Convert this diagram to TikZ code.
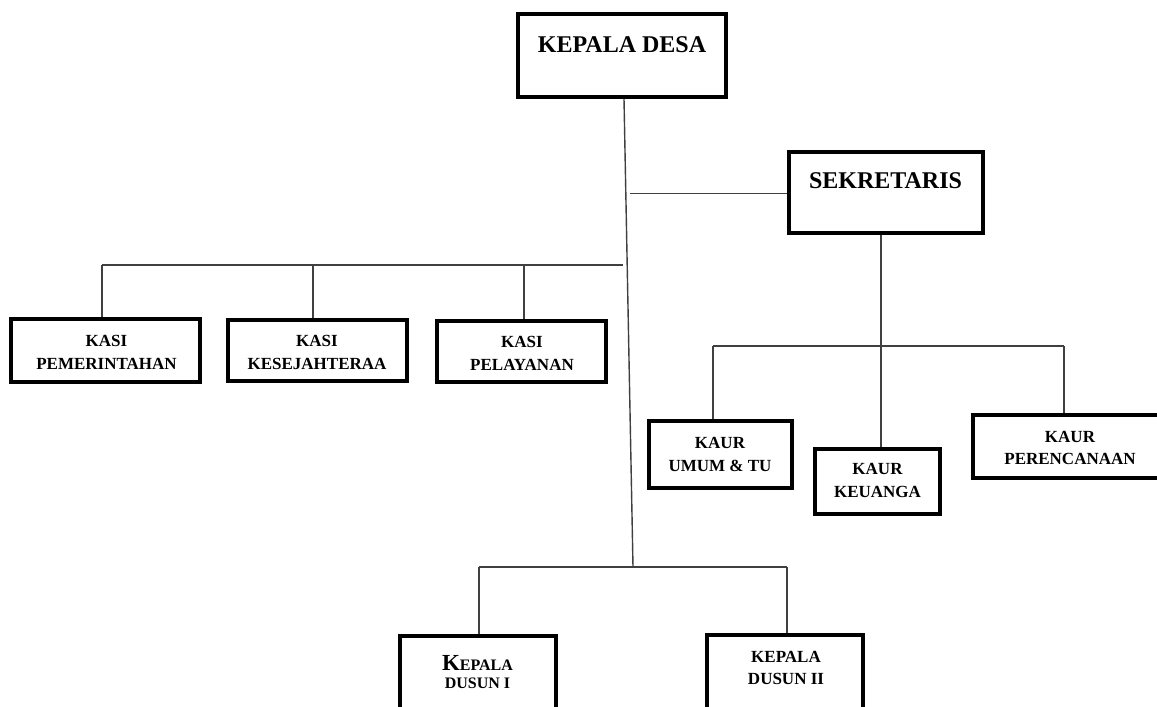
\documentclass[tikz,border=0pt]{standalone}
\usepackage{fontspec}
\setmainfont{Liberation Serif}
\begin{document}
\begin{tikzpicture}[x=1pt,y=-1pt,
  box/.style={draw=black, line width=4pt, rectangle, inner sep=0pt},
  conn/.style={draw=black!75, line width=1.4pt},
  big/.style={font=\fontsize{24}{28}\selectfont\bfseries, anchor=base, inner sep=0pt},
  lbl/.style={font=\fontsize{17}{20}\selectfont\bfseries, anchor=base, inner sep=0pt}]
\useasboundingbox (0,0) rectangle (1157,707);
\clip (0,0) rectangle (1157,707);

% boxes
\node[box, minimum width=208pt, minimum height=83pt] (kd) at (622,55.5) {};
\node[box, minimum width=194pt, minimum height=81pt] (sek) at (886,192.5) {};
\node[box, minimum width=189pt, minimum height=63pt] (k1) at (105.5,350.5) {};
\node[box, minimum width=179pt, minimum height=61pt] (k2) at (317.5,350.5) {};
\node[box, minimum width=169pt, minimum height=61pt] (k3) at (521.5,351.5) {};
\node[box, minimum width=143pt, minimum height=67pt] (u1) at (720.5,454.5) {};
\node[box, minimum width=125pt, minimum height=65pt] (u2) at (877.5,481.5) {};
\node[box, minimum width=194pt, minimum height=63pt] (u3) at (1070,446.5) {};
\node[box, minimum width=156pt, minimum height=92pt] (d1) at (478,682) {};
\node[box, minimum width=156pt, minimum height=93pt] (d2) at (785,681.5) {};

% texts
\node[big] (tkd) at (622,52) {KEPALA DESA};
\node[big] (tsek) at (885.5,188) {SEKRETARIS};
\node[lbl] (tk1a) at (106.5,346) {KASI};
\node[lbl] (tk1b) at (106.5,369) {PEMERINTAHAN};
\node[lbl] (tk2a) at (317,346) {KASI};
\node[lbl] (tk2b) at (317,369) {KESEJAHTERAA};
\node[lbl] (tk3a) at (522,347) {KASI};
\node[lbl] (tk3b) at (522,370) {PELAYANAN};
\node[lbl] (tu1a) at (720,448) {KAUR};
\node[lbl] (tu1b) at (720,471) {UMUM \& TU};
\node[lbl] (tu2a) at (877.5,474) {KAUR};
\node[lbl] (tu2b) at (877.5,497) {KEUANGA};
\node[lbl] (tu3a) at (1070,442) {KAUR};
\node[lbl] (tu3b) at (1070,464) {PERENCANAAN};
\node[lbl] (td1a) at (477.5,670) {{\fontsize{23}{24}\selectfont K}{\fontsize{16}{20}\selectfont EPALA}};
\node[lbl] (td1b) at (477.5,688) {\fontsize{16}{20}\selectfont DUSUN I};
\node[lbl] (td2a) at (786,662) {KEPALA};
\node[lbl] (td2b) at (786,684) {DUSUN II};

% junction coordinates
\coordinate (mb) at (633,567);
\coordinate (sj) at (630,193.5);
\coordinate (kb1) at (102,265);
\coordinate (kb2) at (313,265);
\coordinate (kb3) at (524,265);
\coordinate (kbe) at (623,265);
\coordinate (ub1) at (713,346);
\coordinate (ub2) at (881,346);
\coordinate (ub3) at (1064,346);
\coordinate (db1) at (479,567);
\coordinate (db2) at (787,567);

% connectors
\draw[conn] ([xshift=2pt]kd.south) -- (mb);
\draw[conn] (sj) -- (sj -| sek.west);
\draw[conn] (kb1) -- (kbe);
\draw[conn] (kb1) -- (kb1 |- k1.north);
\draw[conn] (kb2) -- (kb2 |- k2.north);
\draw[conn] (kb3) -- (kb3 |- k3.north);
\draw[conn] (sek.south -| ub2) -- (ub2 |- u2.north);
\draw[conn] (ub1) -- (ub3);
\draw[conn] (ub1) -- (ub1 |- u1.north);
\draw[conn] (ub3) -- (ub3 |- u3.north);
\draw[conn] (db1) -- (db2);
\draw[conn] (db1) -- (db1 |- d1.north);
\draw[conn] (db2) -- (db2 |- d2.north);
\end{tikzpicture}
\end{document}
